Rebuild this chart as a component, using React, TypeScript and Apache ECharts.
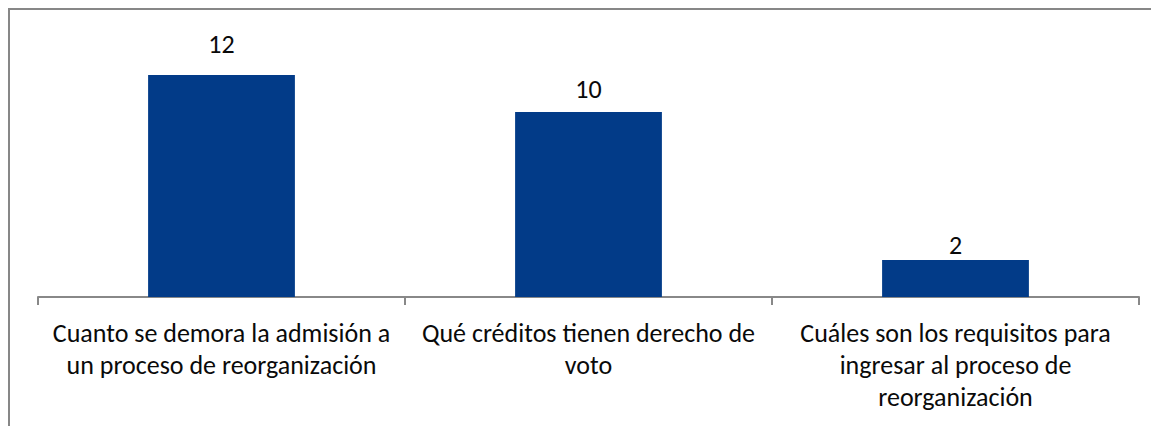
import React, { useEffect, useRef } from "react";
import * as echarts from "echarts";

const categories: string[] = [
  "Cuanto se demora la admisión a\nun proceso de reorganización",
  "Qué créditos tienen derecho de\nvoto",
  "Cuáles son los requisitos para\ningresar al proceso de\nreorganización",
];
const values: number[] = [12, 10, 2];

const FONT = "Carlito, Calibri, 'Open Sans', sans-serif";

export default function App() {
  const ref = useRef<HTMLDivElement>(null);
  useEffect(() => {
    if (!ref.current) return;
    const chart = echarts.init(ref.current, undefined, { renderer: "svg" });
    // label gaps above each bar as placed in the original chart
    const labelGap = [18, 10, 2];
    chart.setOption({
      animation: false,
      backgroundColor: "#ffffff",
      grid: { left: 30, right: 20, top: 30, bottom: 129, containLabel: false },
      xAxis: {
        type: "category",
        data: categories,
        axisLine: { lineStyle: { color: "#888888", width: 2 } },
        axisTick: { show: true, length: 8, lineStyle: { color: "#888888", width: 2 } },
        axisLabel: {
          interval: 0,
          margin: 20,
          fontSize: 26,
          lineHeight: 32,
          color: "#0a0a0a",
          fontFamily: FONT,
        },
      },
      yAxis: {
        type: "value",
        min: 0,
        max: 14,
        interval: 2,
        show: false,
        splitLine: { show: false },
      },
      graphic: [
        { type: "line", shape: { x1: 0, y1: 1, x2: 1151, y2: 1 }, style: { stroke: "#878787", lineWidth: 2 } },
        { type: "line", shape: { x1: 1, y1: 0, x2: 1, y2: 418 }, style: { stroke: "#878787", lineWidth: 2 } },
      ],
      series: [
        {
          type: "bar",
          data: values.map((v, i) => ({ value: v, label: { distance: labelGap[i] } })),
          barWidth: "40%",
          itemStyle: { color: "#023B88" },
          label: {
            show: true,
            position: "top",
            distance: 17,
            fontSize: 26,
            color: "#0a0a0a",
            fontFamily: FONT,
          },
        },
      ],
    });
    return () => chart.dispose();
  }, []);
  return <div ref={ref} style={{ width: 1151, height: 418 }} />;
}
